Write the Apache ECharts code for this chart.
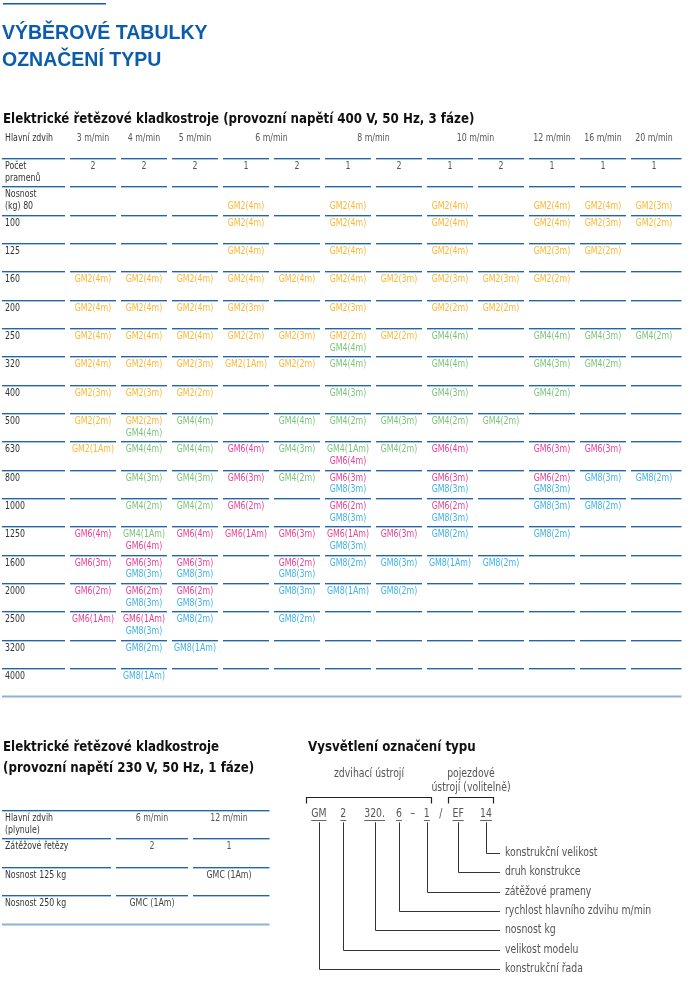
<!DOCTYPE html>
<html>
<head>
<meta charset="utf-8">
<title>Výběrové tabulky – označení typu</title>
<script src="https://cdn.jsdelivr.net/npm/echarts@6/dist/echarts.min.js"></script>
<style>
  html, body { margin: 0; padding: 0; background: #fff; }
  #chart { width: 690px; height: 986px; }
</style>
</head>
<body>
<div id="chart"></div>
<script>
// ---- 400 V, 50 Hz, 3 fáze
var speeds = ['3 m/min', '4 m/min', '5 m/min', '6 m/min', '8 m/min', '10 m/min', '12 m/min', '16 m/min', '20 m/min'];
var strandsPerSpeed = [[2], [2], [2], [1, 2], [1, 2], [1, 2], [1], [1], [1]];
var loads = [80, 100, 125, 160, 200, 250, 320, 400, 500, 630, 800, 1000, 1250, 1600, 2000, 2500, 3200, 4000];
var hoists = [
  ['', '', '', 'GM2(4m)', '', 'GM2(4m)', '', 'GM2(4m)', '', 'GM2(4m)', 'GM2(4m)', 'GM2(3m)'],
  ['', '', '', 'GM2(4m)', '', 'GM2(4m)', '', 'GM2(4m)', '', 'GM2(4m)', 'GM2(3m)', 'GM2(2m)'],
  ['', '', '', 'GM2(4m)', '', 'GM2(4m)', '', 'GM2(4m)', '', 'GM2(3m)', 'GM2(2m)', ''],
  ['GM2(4m)', 'GM2(4m)', 'GM2(4m)', 'GM2(4m)', 'GM2(4m)', 'GM2(4m)', 'GM2(3m)', 'GM2(3m)', 'GM2(3m)', 'GM2(2m)', '', ''],
  ['GM2(4m)', 'GM2(4m)', 'GM2(4m)', 'GM2(3m)', '', 'GM2(3m)', '', 'GM2(2m)', 'GM2(2m)', '', '', ''],
  ['GM2(4m)', 'GM2(4m)', 'GM2(4m)', 'GM2(2m)', 'GM2(3m)', ['GM2(2m)', 'GM4(4m)'], 'GM2(2m)', 'GM4(4m)', '', 'GM4(4m)', 'GM4(3m)', 'GM4(2m)'],
  ['GM2(4m)', 'GM2(4m)', 'GM2(3m)', 'GM2(1Am)', 'GM2(2m)', 'GM4(4m)', '', 'GM4(4m)', '', 'GM4(3m)', 'GM4(2m)', ''],
  ['GM2(3m)', 'GM2(3m)', 'GM2(2m)', '', '', 'GM4(3m)', '', 'GM4(3m)', '', 'GM4(2m)', '', ''],
  ['GM2(2m)', ['GM2(2m)', 'GM4(4m)'], 'GM4(4m)', '', 'GM4(4m)', 'GM4(2m)', 'GM4(3m)', 'GM4(2m)', 'GM4(2m)', '', '', ''],
  ['GM2(1Am)', 'GM4(4m)', 'GM4(4m)', 'GM6(4m)', 'GM4(3m)', ['GM4(1Am)', 'GM6(4m)'], 'GM4(2m)', 'GM6(4m)', '', 'GM6(3m)', 'GM6(3m)', ''],
  ['', 'GM4(3m)', 'GM4(3m)', 'GM6(3m)', 'GM4(2m)', ['GM6(3m)', 'GM8(3m)'], '', ['GM6(3m)', 'GM8(3m)'], '', ['GM6(2m)', 'GM8(3m)'], 'GM8(3m)', 'GM8(2m)'],
  ['', 'GM4(2m)', 'GM4(2m)', 'GM6(2m)', '', ['GM6(2m)', 'GM8(3m)'], '', ['GM6(2m)', 'GM8(3m)'], '', 'GM8(3m)', 'GM8(2m)', ''],
  ['GM6(4m)', ['GM4(1Am)', 'GM6(4m)'], 'GM6(4m)', 'GM6(1Am)', 'GM6(3m)', ['GM6(1Am)', 'GM8(3m)'], 'GM6(3m)', 'GM8(2m)', '', 'GM8(2m)', '', ''],
  ['GM6(3m)', ['GM6(3m)', 'GM8(3m)'], ['GM6(3m)', 'GM8(3m)'], '', ['GM6(2m)', 'GM8(3m)'], 'GM8(2m)', 'GM8(3m)', 'GM8(1Am)', 'GM8(2m)', '', '', ''],
  ['GM6(2m)', ['GM6(2m)', 'GM8(3m)'], ['GM6(2m)', 'GM8(3m)'], '', 'GM8(3m)', 'GM8(1Am)', 'GM8(2m)', '', '', '', '', ''],
  ['GM6(1Am)', ['GM6(1Am)', 'GM8(3m)'], 'GM8(2m)', '', 'GM8(2m)', '', '', '', '', '', '', ''],
  ['', 'GM8(2m)', 'GM8(1Am)', '', '', '', '', '', '', '', '', ''],
  ['', 'GM8(1Am)', '', '', '', '', '', '', '', '', '', '']
];

// ---- 230 V, 50 Hz, 1 fáze
var phase1Speeds = ['6 m/min', '12 m/min'];
var phase1Chains = [2, 1];
var phase1Loads = [125, 250];
var phase1Hoists = [['', 'GMC (1Am)'], ['GMC (1Am)', '']];

// ---- vysvětlení označení typu
var typeCode = 'GM  2  320. 6 – 1 / EF  14';
var meaningParts = ['14', 'EF', '1', '6', '320.', '2', 'GM'];
var meanings = ['konstrukční velikost', 'druh konstrukce', 'zátěžové prameny', 'rychlost hlavního zdvihu m/min', 'nosnost kg', 'velikost modelu', 'konstrukční řada'];
var codeGroups = [['GM', '1', 'zdvihací ústrojí'], ['EF', '14', 'pojezdové\nústrojí (volitelně)']];

var FONT = '"DejaVu Sans Condensed", "Liberation Sans", sans-serif';
var LINE_DARK = '#2563aa', LINE_LIGHT = '#a6c4e4', LINE_END = '#8fb2d9';
var modelColors = { GM2: '#fbb633', GM4: '#78c477', GM6: '#ec4093', GM8: '#40b2e6', GMC: '#444' };
var HEAD = '#555', LABEL = '#333', LABEL_X = 5;
var TABLE_SIZE = 10.5, TABLE_SX = 0.83;   // narrow look of the table lettering
var CODE_SIZE = 11.5, CODE_SX = 0.9;

// sub-columns of the 400 V table: one per speed and strand count
var subCols = [], speedCols = [];
speeds.forEach(function (s, i) {
  speedCols.push([]);
  strandsPerSpeed[i].forEach(function (n) {
    speedCols[i].push(subCols.length);
    subCols.push({ speed: s, strands: n });
  });
});

var measureCtx = document.createElement('canvas').getContext('2d');
function textWidth(text, size, sx) { measureCtx.font = size + 'px ' + FONT; return measureCtx.measureText(text).width * sx; }

function hline(x1, x2, y, color, w) {
  return { type: 'line', silent: true, shape: { x1: x1, y1: y, x2: x2, y2: y }, style: { stroke: color, lineWidth: w } };
}
function rule(x1, x2, y) {
  var yy = Math.round(y) + 0.5;
  return [hline(x1, x2, yy, LINE_DARK, 1), hline(x1, x2, yy + 1, LINE_LIGHT, 1)];
}
function txt(text, x, y, color, align, size, sx) {
  return {
    type: 'text', silent: true, x: x, y: y, scaleX: sx || TABLE_SX,
    style: { text: text, x: 0, y: 0, fill: color, font: (size || TABLE_SIZE) + 'px ' + FONT, align: align || 'center', verticalAlign: 'middle' }
  };
}

function mainRow(row) {
  if (row === 0) {
    return { rule: 'none', label: 'Hlavní zdvih', cells: speeds.map(function (s, i) { return { cols: speedCols[i], lines: [[s, HEAD]] }; }) };
  }
  if (row === 1) {
    return { rule: 'cells', label: 'Počet\npramenů', cells: subCols.map(function (sc, c) { return { cols: [c], lines: [[String(sc.strands), HEAD]] }; }) };
  }
  var li = row - 2;
  var label = li === 0 ? 'Nosnost\n(kg) ' + loads[0] : String(loads[li]);
  return {
    rule: 'cells', bottom: li === loads.length - 1, label: label, start: label.split('\n').length - 1,
    cells: hoists[li].map(function (cell, c) {
      return { cols: [c], lines: [].concat(cell).filter(Boolean).map(function (m) { return [m, modelColors[m.slice(0, 3)]]; }) };
    })
  };
}

function phase1Row(row) {
  if (row === 0) {
    return { rule: 'full', label: 'Hlavní zdvih\n(plynule)', cells: phase1Speeds.map(function (s, c) { return { cols: [c], lines: [[s, HEAD]] }; }) };
  }
  if (row === 1) {
    return { rule: 'cells', label: 'Zátěžové řetězy', cells: phase1Chains.map(function (n, c) { return { cols: [c], lines: [[String(n), HEAD]] }; }) };
  }
  var li = row - 2;
  return {
    rule: 'cells', bottom: li === phase1Loads.length - 1, label: 'Nosnost ' + phase1Loads[li] + ' kg',
    cells: phase1Hoists[li].map(function (m, c) { return { cols: [c], lines: m ? [[m, modelColors[m.slice(0, 3)]]] : [] }; })
  };
}

function tableRenderer(getRow, nCols) {
  return function (params, api) {
    var row = api.value(1);
    var band = api.size([1, 1]);
    var bw = band[0], bh = band[1];
    var first = api.coord([0, row]);
    var left = first[0] - bw / 2, right = left + bw * nCols;
    var top = first[1] - bh / 2;
    var spec = getRow(row);
    var kids = [];
    if (spec.rule === 'full') {
      kids = kids.concat(rule(LABEL_X - 3, right + 2, top));
    } else if (spec.rule === 'cells') {
      kids = kids.concat(rule(LABEL_X - 3, left - 2.5, top));
      for (var c = 0; c < nCols; c++) {
        var cx = api.coord([c, row])[0];
        kids = kids.concat(rule(cx - bw / 2 + 2.5, cx + bw / 2 + (c === nCols - 1 ? 2 : -2.5), top));
      }
    }
    if (spec.bottom) {
      kids.push(hline(LABEL_X - 3, right + 2, Math.round(top + bh) + 0.5, LINE_END, 2));
    }
    var lh = 11.5, y0 = top + 8.3;
    spec.label.split('\n').forEach(function (t, i) { kids.push(txt(t, LABEL_X, y0 + i * lh, LABEL, 'left')); });
    spec.cells.forEach(function (cell) {
      var x = 0;
      cell.cols.forEach(function (c) { x += api.coord([c, row])[0]; });
      x /= cell.cols.length;
      cell.lines.forEach(function (ln, i) { kids.push(txt(ln[0], x, y0 + ((spec.start || 0) + i) * lh, ln[1])); });
    });
    return { type: 'group', children: kids };
  };
}

// code parts with their character position in the code string
var codeParts = [], re = /\S+/g, m;
while ((m = re.exec(typeCode))) codeParts.push({ text: m[0], center: m.index + (m[0].length - 1) / 2 });
var CODE_ROW = -2;
var leaderEnd = typeCode.length + 0.5;
function partCenter(t) { return codeParts.filter(function (p) { return p.text === t; })[0].center; }

function codeRender(params, api) {
  var part = codeParts[params.dataIndex];
  var p = api.coord([api.value(0), CODE_ROW]);
  var x = Math.round(p[0]) + 0.5;
  var kids = [txt(part.text, p[0], p[1], '#555', 'center', CODE_SIZE, CODE_SX)];
  var mi = meaningParts.indexOf(part.text);
  if (mi >= 0) {
    var w = textWidth(part.text, CODE_SIZE, CODE_SX);
    kids.push(hline(p[0] - w / 2, p[0] + w / 2, Math.round(p[1] + 6) + 0.5, '#666', 1));
    var q = api.coord([leaderEnd, mi]);
    var y = Math.round(q[1]) + 0.5;
    kids.push({ type: 'polyline', silent: true, shape: { points: [[x, p[1] + 8], [x, y], [q[0], y]] }, style: { stroke: '#333', lineWidth: 1, fill: null } });
    kids.push(txt(meanings[mi], q[0] + 5, q[1], '#555', 'left', CODE_SIZE, CODE_SX));
  }
  return { type: 'group', children: kids };
}

function groupRender(params, api) {
  var g = codeGroups[params.dataIndex];
  var a = api.coord([api.value(0), CODE_ROW]), b = api.coord([api.value(1), CODE_ROW]);
  var x1 = Math.round(a[0] - textWidth(g[0], CODE_SIZE, CODE_SX) / 2 - 5) + 0.5;
  var x2 = Math.round(b[0] + textWidth(g[1], CODE_SIZE, CODE_SX) / 2 + 1) + 0.5;
  var y = Math.round(a[1] - 17) + 0.5;
  var kids = [{ type: 'polyline', silent: true, shape: { points: [[x1, y + 6], [x1, y], [x2, y], [x2, y + 6]] }, style: { stroke: '#222', lineWidth: 1.2, fill: null } }];
  g[2].split('\n').forEach(function (t, i) { kids.push(txt(t, (x1 + x2) / 2, y - 23 + i * 14, '#555', 'center', CODE_SIZE, CODE_SX)); });
  return { type: 'group', children: kids };
}

var mainRowNames = ['Hlavní zdvih', 'Počet pramenů'].concat(loads.map(String));
var phase1RowNames = ['Hlavní zdvih', 'Zátěžové řetězy'].concat(phase1Loads.map(String));

var chart = echarts.init(document.getElementById('chart'), null, { renderer: 'canvas' });
var titleFont = { fontFamily: FONT, fontWeight: 'bold', fontSize: 13.2, color: '#111' };
var option = {
  animation: false,
  backgroundColor: '#fff',
  title: [
    { text: 'VÝBĚROVÉ TABULKY\nOZNAČENÍ TYPU', left: 2, top: 20.5, padding: 0,
      textStyle: { fontFamily: '"Liberation Sans", sans-serif', fontWeight: 'bold', fontSize: 19.5, lineHeight: 27, color: '#0b5cab' } },
    { text: 'Elektrické řetězové kladkostroje (provozní napětí 400 V, 50 Hz, 3 fáze)', left: 3, top: 112, padding: 0,
      textStyle: Object.assign({ lineHeight: 16 }, titleFont) },
    { text: 'Elektrické řetězové kladkostroje\n(provozní napětí 230 V, 50 Hz, 1 fáze)', left: 3, top: 737.5, padding: 0,
      textStyle: Object.assign({ lineHeight: 21 }, titleFont) },
    { text: 'Vysvětlení označení typu', left: 308, top: 740, padding: 0,
      textStyle: Object.assign({ lineHeight: 16 }, titleFont) }
  ],
  graphic: [{ type: 'rect', shape: { x: 3, y: 3, width: 103, height: 1.5 }, style: { fill: '#0b5cab' }, silent: true }],
  grid: [
    { left: 67.5, top: 129.7, width: 612, height: 566.7 },
    { left: 113.5, top: 810, width: 154, height: 113.6 },
    { left: 305, top: 756.3, width: 385, height: 222.4 }
  ],
  xAxis: [
    { gridIndex: 0, type: 'category', data: subCols.map(function (c) { return c.speed + ' / ' + c.strands; }), show: false },
    { gridIndex: 1, type: 'category', data: phase1Speeds, show: false },
    { gridIndex: 2, type: 'value', min: -1.5, max: 53.8, show: false }
  ],
  yAxis: [
    { gridIndex: 0, type: 'category', inverse: true, data: mainRowNames, show: false },
    { gridIndex: 1, type: 'category', inverse: true, data: phase1RowNames, show: false },
    { gridIndex: 2, type: 'value', inverse: true, min: -5, max: 6.5, show: false }
  ],
  series: [
    { type: 'custom', name: '400 V', xAxisIndex: 0, yAxisIndex: 0, clip: false, encode: { x: 0, y: 1 },
      data: mainRowNames.map(function (n, i) { return [0, i]; }), renderItem: tableRenderer(mainRow, subCols.length) },
    { type: 'custom', name: '230 V', xAxisIndex: 1, yAxisIndex: 1, clip: false, encode: { x: 0, y: 1 },
      data: phase1RowNames.map(function (n, i) { return [0, i]; }), renderItem: tableRenderer(phase1Row, phase1Speeds.length) },
    { type: 'custom', name: 'kód', xAxisIndex: 2, yAxisIndex: 2, clip: false, encode: { x: 0, y: 1 },
      data: codeParts.map(function (p) { return [p.center, CODE_ROW]; }), renderItem: codeRender },
    { type: 'custom', name: 'skupiny', xAxisIndex: 2, yAxisIndex: 2, clip: false, encode: { x: [0, 1], y: 2 },
      data: codeGroups.map(function (g) { return [partCenter(g[0]), partCenter(g[1]), CODE_ROW]; }), renderItem: groupRender }
  ]
};
chart.setOption(option);
</script>
</body>
</html>
